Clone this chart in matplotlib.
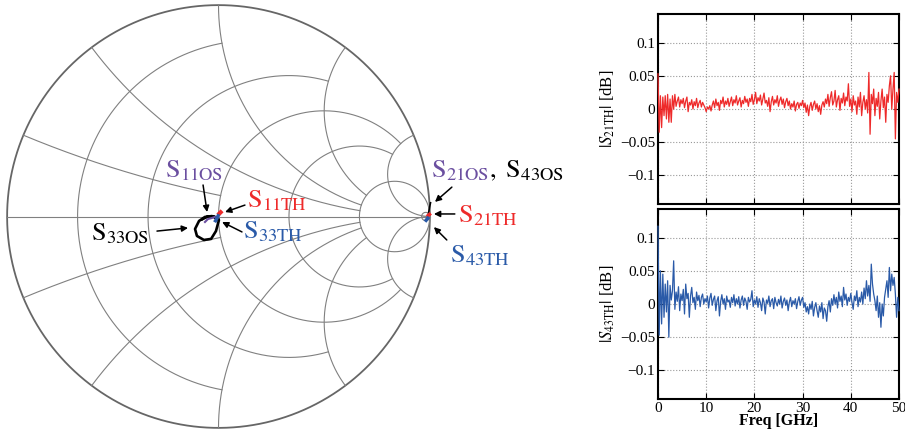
import numpy as np
import matplotlib
matplotlib.use("Agg")
import matplotlib.pyplot as plt

plt.rcParams['font.family'] = ['Liberation Serif', 'DejaVu Serif']
plt.rcParams['mathtext.fontset'] = 'stix'

# Smith chart grid (value, limit of the other coordinate)
res_vals = [0.2, 0.5, 1, 2, 5, 50]
res_lims = [1, 2, 5, 5, np.inf, np.inf]
react_vals = [0.2, 0.5, 1, 2, 5]
react_lims = [1, 5, 5, 5, np.inf]

# reflection traces (real, imag of Gamma)
s33os_re = [-0.002, -0.031, -0.064, -0.092, -0.111, -0.102, -0.069, -0.035, -0.012, 0.002, -0.02, -0.05, -0.075]
s33os_im = [-0.012, 0.002, -0.002, -0.021, -0.059, -0.092, -0.111, -0.106, -0.069, -0.017, 0.0, 0.0, -0.012]
s11os_re = [-0.064, -0.05, -0.031, -0.017]
s11os_im = [-0.026, -0.012, -0.007, -0.002]
s11th_re = [0.004, 0.01]
s11th_im = [0.014, 0.02]
s33th_re = [-0.014, -0.007, -0.002]
s33th_im = [-0.02, -0.008, 0.003]
s21th_re = [0.992, 0.998]
s21th_im = [0.005, 0.01]
s43th_re = [0.982, 0.99]
s43th_im = [-0.018, -0.008]
s21os_re = [0.99, 0.996, 1.003]
s21os_im = [-0.005, 0.03, 0.065]

# transmission ripple vs frequency
freq = np.linspace(0, 50, 201)
s21th_db = [
    0.053, -0.035, 0.02, -0.028, 0.018, -0.01, 0.02, -0.015, 0.022, -0.02, 0.015, -0.02, 0.02, 0.0, 0.022, 0.004, 0.012, 0.018, 0.003, 0.014,
    0.008, 0.016, 0.002, 0.012, 0.018, -0.004, 0.01, 0.006, 0.014, 0.0, 0.011, 0.005, 0.016, 0.002, 0.009, 0.013, 0.003, 0.01, 0.006, 0.002,
    -0.004, 0.003, 0.0, 0.005, -0.003, 0.006, 0.012, 0.002, 0.015, 0.005, 0.01, -0.002, 0.013, 0.008, 0.018, 0.003, 0.012, 0.007, 0.016, 0.004,
    0.011, 0.018, 0.005, 0.014, 0.009, 0.02, 0.006, 0.012, 0.017, 0.003, 0.013, 0.008, 0.019, 0.01, 0.015, 0.004, 0.016, 0.011, 0.022, 0.007,
    0.014, 0.025, 0.008, 0.017, 0.012, 0.021, 0.006, 0.015, 0.024, 0.009, 0.013, 0.004, 0.017, -0.004, 0.011, 0.019, 0.006, 0.014, 0.009, 0.02,
    0.004, 0.013, 0.018, 0.007, 0.015, 0.002, 0.011, 0.016, 0.005, 0.012, 0.0, 0.008, 0.003, 0.012, -0.003, 0.007, 0.01, 0.001, 0.009, 0.005,
    0.013, 0.002, 0.009, -0.005, 0.006, -0.01, 0.004, 0.01, -0.002, 0.007, 0.012, 0.0, 0.008, -0.004, 0.005, -0.008, 0.006, 0.011, 0.003, 0.015,
    0.008, 0.022, 0.004, 0.017, 0.026, 0.006, 0.012, 0.028, 0.003, 0.014, 0.02, -0.002, 0.016, 0.009, 0.024, 0.005, 0.018, 0.012, 0.038, 0.004,
    0.015, -0.004, 0.02, 0.006, 0.012, -0.008, 0.018, 0.003, 0.025, -0.01, 0.01, 0.02, 0.0, 0.014, -0.006, 0.055, -0.038, 0.022, 0.008, 0.03,
    -0.01, 0.016, 0.004, 0.025, -0.015, 0.012, 0.03, 0.002, 0.018, -0.02, 0.022, 0.01, 0.035, 0.05, 0.0, 0.03, 0.055, -0.045, 0.025, 0.01,
    0.03]
s43th_db = [
    0.117, -0.047, 0.05, -0.03, 0.045, -0.02, 0.03, -0.012, 0.035, -0.05, 0.028, 0.006, 0.02, 0.065, -0.008, 0.018, 0.004, 0.026, -0.01, 0.015,
    0.005, 0.022, -0.015, 0.03, 0.008, 0.016, -0.02, 0.012, 0.025, 0.002, 0.01, -0.008, 0.018, 0.005, 0.013, -0.004, 0.01, 0.015, 0.0, 0.008,
    0.003, 0.012, -0.006, 0.009, 0.016, -0.002, 0.007, 0.012, -0.01, 0.005, 0.011, -0.018, 0.004, 0.014, 0.0, 0.008, -0.008, 0.012, 0.003, 0.006,
    -0.005, 0.01, 0.002, 0.014, -0.003, 0.008, 0.0, 0.011, -0.006, 0.006, 0.012, -0.002, 0.009, 0.004, -0.008, 0.01, 0.003, 0.007, 0.02, -0.004,
    0.006, 0.0, 0.011, -0.005, 0.008, 0.002, -0.01, 0.009, 0.003, -0.015, 0.006, 0.001, 0.012, -0.004, 0.005, 0.008, -0.007, 0.01, 0.002, -0.003,
    0.007, 0.0, 0.012, -0.006, 0.004, 0.009, -0.002, 0.006, -0.01, 0.003, 0.01, -0.004, 0.005, 0.0, 0.008, -0.007, 0.004, 0.011, -0.002, 0.006,
    0.01, -0.005, 0.002, -0.012, -0.004, -0.015, 0.0, -0.008, 0.004, -0.018, -0.005, 0.002, -0.01, -0.02, -0.003, -0.012, 0.002, -0.022, -0.006, -0.01,
    -0.026, -0.004, 0.005, -0.012, 0.008, -0.002, 0.014, 0.0, 0.01, -0.006, 0.018, 0.004, 0.012, -0.004, 0.025, 0.006, 0.015, -0.002, 0.01, 0.004,
    0.016, 0.002, -0.008, 0.012, 0.005, 0.02, -0.004, 0.01, 0.003, 0.018, 0.0, 0.024, 0.008, 0.035, 0.012, 0.028, 0.004, 0.06, 0.03, 0.015,
    0.005, -0.01, 0.012, -0.02, 0.002, -0.035, 0.0, -0.018, 0.01, 0.022, 0.035, 0.01, 0.055, 0.02, 0.045, 0.028, 0.04, 0.015, -0.02, 0.01,
    -0.01]

purple = '#6b4fa0'
red = '#ee2a2a'
blue = '#2a5aa8'
gridc = '#808080'


def gamma(z):
    return (z - 1) / (z + 1)


fig = plt.figure(figsize=(9.05, 4.33), dpi=100)

# ---- Smith chart ----
ax = fig.add_axes([5 / 905, 3 / 433, 427 / 905, 427 / 433])
ax.set_xlim(-1.01, 1.01)
ax.set_ylim(-1.01, 1.01)
ax.set_aspect('equal')
ax.axis('off')

t = np.linspace(0, 2 * np.pi, 600)
ax.plot(np.cos(t), np.sin(t), color='#666666', lw=1.3)
ax.plot([-1, 1], [0, 0], color=gridc, lw=0.8)

for r, lim in zip(res_vals, res_lims):
    if np.isinf(lim):
        c = r / (1 + r)
        rad = 1 / (1 + r)
        ax.plot(c + rad * np.cos(t), rad * np.sin(t), color=gridc, lw=0.8)
    else:
        x = np.linspace(-lim, lim, 800)
        g = gamma(r + 1j * x)
        ax.plot(g.real, g.imag, color=gridc, lw=0.8)

for xv, lim in zip(react_vals, react_lims):
    if np.isinf(lim):
        rr = np.concatenate([[0], np.geomspace(1e-3, 1e4, 800)])
    else:
        rr = np.linspace(0, lim, 800)
    for s in (1, -1):
        g = gamma(rr + 1j * s * xv)
        ax.plot(g.real, g.imag, color=gridc, lw=0.8)

ax.plot(s33os_re, s33os_im, color='black', lw=1.9)
ax.plot(s11os_re, s11os_im, color=purple, lw=1.5)
ax.plot(s11th_re, s11th_im, color=red, lw=3)
ax.plot(s33th_re, s33th_im, color=blue, lw=2.5)
ax.plot(s21os_re, s21os_im, color='black', lw=1.2, clip_on=False)
ax.plot(s21th_re, s21th_im, color=red, lw=2.5, clip_on=False)
ax.plot(s43th_re, s43th_im, color=blue, lw=2.5, clip_on=False)

fs = 19
labels = [
    (r'$\mathrm{S}_{\mathrm{11OS}}$', -0.253, 0.187, purple),
    (r'$\mathrm{S}_{\mathrm{11TH}}$', 0.135, 0.045, red),
    (r'$\mathrm{S}_{\mathrm{33TH}}$', 0.116, -0.102, blue),
    (r'$\mathrm{S}_{\mathrm{33OS}}$', -0.603, -0.111, 'black'),
    (r'$\mathrm{S}_{\mathrm{21OS}}$', 1.005, 0.187, purple),
    (r'$,\ \mathrm{S}_{\mathrm{43OS}}$', 1.28, 0.187, 'black'),
    (r'$\mathrm{S}_{\mathrm{21TH}}$', 1.132, -0.026, red),
    (r'$\mathrm{S}_{\mathrm{43TH}}$', 1.095, -0.215, blue),
]
for txt, lx, ly, col in labels:
    ax.text(lx, ly, txt, color=col, fontsize=fs, ha='left', va='baseline', clip_on=False)

arrows = [
    ((-0.073, 0.149), (-0.054, 0.021)),
    ((0.125, 0.054), (0.031, 0.021)),
    ((0.111, -0.073), (0.017, -0.026)),
    ((-0.291, -0.069), (-0.144, -0.054)),
    ((1.104, 0.139), (1.024, 0.069)),
    ((1.118, 0.012), (1.019, 0.012)),
    ((1.080, -0.111), (1.019, -0.050)),
]
for tail, head in arrows:
    ax.annotate('', xy=head, xytext=tail, annotation_clip=False,
                arrowprops=dict(arrowstyle='-|>', color='black', lw=1.1,
                                mutation_scale=9, shrinkA=0, shrinkB=0))

# ---- ripple panels ----
panels = [
    (204, s21th_db, red, r'$|S_{\mathrm{21TH}}|$ [dB]'),
    (399, s43th_db, blue, r'$|S_{\mathrm{43TH}}|$ [dB]'),
]
for i, (ybot, vals, col, lab) in enumerate(panels):
    a = fig.add_axes([658 / 905, (433 - ybot) / 433, 241 / 905, 190 / 433])
    a.plot(freq, vals, color=col, lw=0.9, zorder=3, clip_on=False)
    a.set_xlim(0, 50)
    a.set_ylim(-0.143, 0.143)
    a.set_xticks([0, 10, 20, 30, 40, 50])
    a.set_yticks([-0.1, -0.05, 0, 0.05, 0.1])
    a.set_yticklabels(['\u22120.1', '\u22120.05', '0', '0.05', '0.1'])
    a.grid(True, linestyle=':', color='#999999', lw=0.8)
    a.tick_params(direction='in', length=4, top=True, right=True, labelsize=11, pad=2)
    for sp in a.spines.values():
        sp.set_linewidth(1.5)
        sp.set_zorder(2)
    a.set_ylabel(lab, fontsize=12, labelpad=2)
    if i == 0:
        a.set_xticklabels([])
    else:
        a.set_xlabel('Freq [GHz]', fontsize=11.5, fontweight='bold', labelpad=-1)

fig.savefig('out.png', dpi=100)
